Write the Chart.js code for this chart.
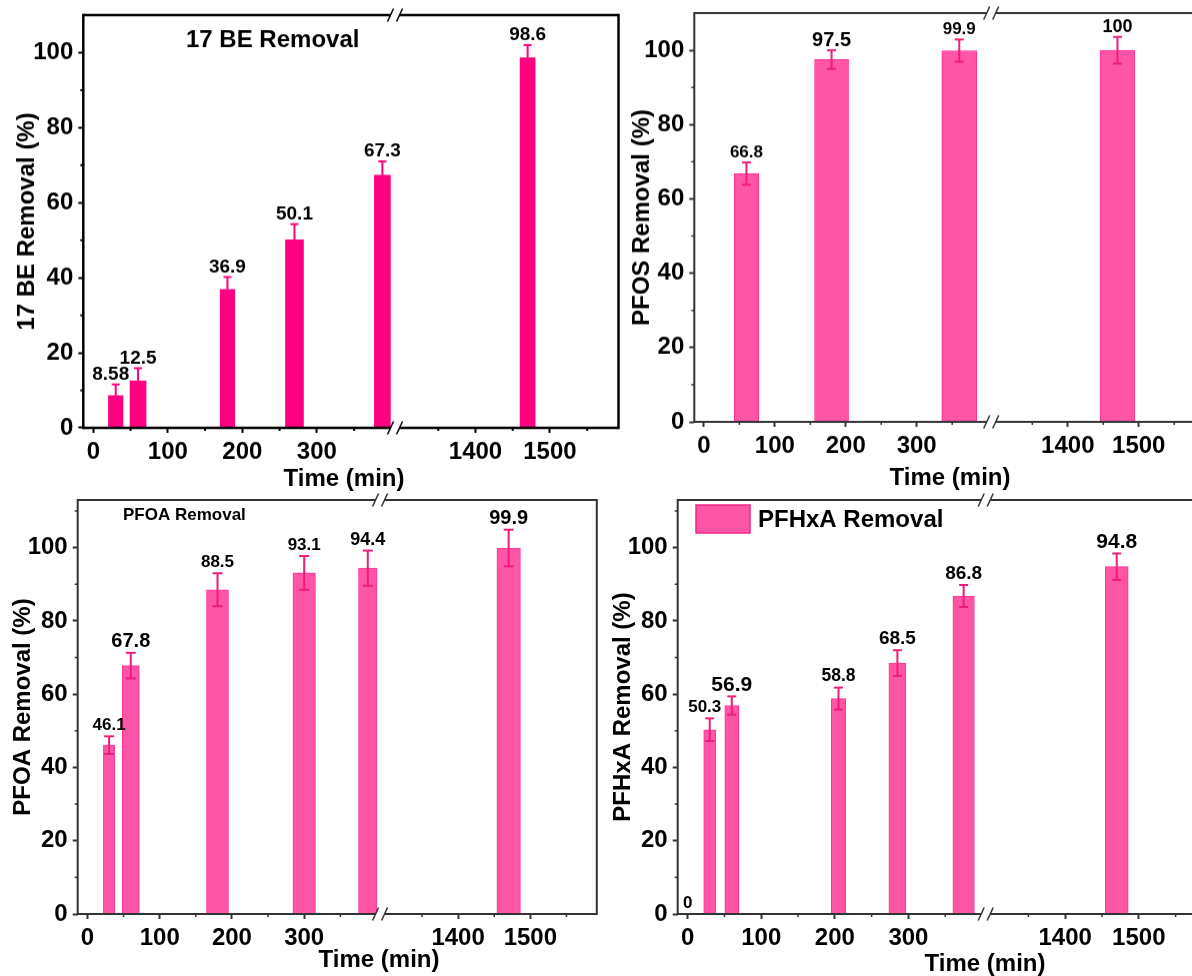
<!doctype html>
<html lang="en">
<head>
<meta charset="utf-8">
<title>Removal vs time</title>
<script src="https://cdn.jsdelivr.net/npm/chart.js"></script>
<style>
  html, body { margin: 0; padding: 0; background: #fff; }
  #wrap { position: relative; width: 1192px; height: 976px; overflow: hidden; }
  canvas { position: absolute; }
</style>
</head>
<body>
<div id="wrap">
  <canvas id="c_be"></canvas>
  <canvas id="c_pfos"></canvas>
  <canvas id="c_pfoa"></canvas>
  <canvas id="c_pfhxa"></canvas>
</div>
<script>
// values
const beTime = [30, 60, 180, 270, 388, 1470];
const beRemoval = [8.58, 12.5, 36.9, 50.1, 67.3, 98.6];
const beError = [3.0, 3.4, 3.3, 4.2, 3.7, 3.4];

const pfosTime = [60, 180, 360, 1470];
const pfosRemoval = [66.8, 97.5, 99.9, 100];
const pfosError = [3.0, 2.5, 3.0, 3.6];

const pfoaTime = [30, 60, 180, 300, 388, 1470];
const pfoaRemoval = [46.1, 67.8, 88.5, 93.1, 94.4, 99.9];
const pfoaError = [2.4, 3.5, 4.5, 4.6, 4.8, 5.0];

const pfhxaTime = [0, 30, 60, 205, 285, 375, 1470];
const pfhxaRemoval = [0, 50.3, 56.9, 58.8, 68.5, 86.8, 94.8];
const pfhxaError = [0, 3.1, 2.5, 3.0, 3.5, 3.0, 3.6];

// broken time axis: the part between breakFrom and breakTo is cut out
const timeMin = -13.5;
const timeMax = 1592;
const breakFrom = 405;
const breakTo = 1292;
const xMajorTicks = [0, 100, 200, 300, 1400, 1500];
const xMinorTicks = [50, 150, 250, 350, 1350, 1450, 1550];
const yMinorTicks = [10, 30, 50, 70, 90, 110];

const toAxis = t => t > breakFrom ? t - (breakTo - breakFrom) : t;
const fromAxis = u => u > breakFrom ? u + (breakTo - breakFrom) : u;

const FONT = '"Liberation Sans", Arial, sans-serif';
Chart.defaults.font.family = FONT;

const panels = [
    {
        id: 'c_be', yTitle: '17 BE Removal (%)', time: beTime, removal: beRemoval, error: beError, yMax: 110,
        area: { l: 83.3, t: 15, r: 618.5, b: 427.7 }, canvasX: 0, canvasW: 640,
        yTitleX: 27, xTitle: [344, 478],
        fill: '#FF0080', edge: '#FF0080', edgeWidth: 0, errColor: '#FF0080', errDown: false, capHalf: 4,
        frame: '#000', frameWidth: 2.5,
        barWidth: [14.5, 16, 14.5, 18, 16, 15],
        labelSize: [19, 19, 19, 19, 19, 19], labelDx: [-5, 0, 0, 0, 0, 0], labelGap: 10,
        note: { text: '17 BE Removal', x: 186, y: 40, size: 24 }
    },
    {
        id: 'c_pfos', yTitle: 'PFOS Removal (%)', time: pfosTime, removal: pfosRemoval, error: pfosError, yMax: 110,
        area: { l: 694.3, t: 13.3, r: 1204, b: 421.7 }, canvasX: 600, canvasW: 620,
        yTitleX: 642, xTitle: [950, 478],
        fill: '#FF55A6', edge: '#FF3399', edgeWidth: 1, errColor: '#EE1C7C', errDown: true, capHalf: 4.5,
        frame: '#333', frameWidth: 2,
        barWidth: [24.5, 34, 35, 35],
        labelSize: [17, 20, 17, 18], labelDx: [0, 0, 0, 0], labelGap: 10
    },
    {
        id: 'c_pfoa', yTitle: 'PFOA Removal (%)', time: pfoaTime, removal: pfoaRemoval, error: pfoaError, yMax: 113,
        area: { l: 77.7, t: 500, r: 596.8, b: 914.3 }, canvasX: 0, canvasW: 640,
        yTitleX: 23, xTitle: [379, 960],
        fill: '#FF55A6', edge: '#FF3399', edgeWidth: 1, errColor: '#EE1C7C', errDown: true, capHalf: 5,
        frame: '#333', frameWidth: 2,
        barWidth: [11.5, 17, 22, 22.5, 18.5, 23.5],
        labelSize: [17, 20, 17, 17, 18, 20], labelDx: [0, 0, 0, 0, 0, 0], labelGap: 11,
        note: { text: 'PFOA Removal', x: 123, y: 515, size: 17 }
    },
    {
        id: 'c_pfhxa', yTitle: 'PFHxA Removal (%)', time: pfhxaTime, removal: pfhxaRemoval, error: pfhxaError, yMax: 113,
        area: { l: 677.7, t: 500, r: 1206.5, b: 914.3 }, canvasX: 600, canvasW: 620,
        yTitleX: 623, xTitle: [985, 964],
        fill: '#FF55A6', edge: '#FF3399', edgeWidth: 1, errColor: '#EE1C7C', errDown: true, capHalf: 4.5,
        frame: '#333', frameWidth: 2,
        barWidth: [12, 12, 14, 14.5, 17, 21.5, 23],
        labelSize: [17, 17, 21, 17.5, 19, 19, 21], labelDx: [0, -5, 0, 0, 0, 0, 0], labelGap: 11,
        legend: { text: 'PFHxA Removal', box: [696, 505, 54, 28], x: 758, y: 520, size: 24 }
    }
];

function line(ctx, x1, y1, x2, y2) {
    ctx.beginPath();
    ctx.moveTo(x1, y1);
    ctx.lineTo(x2, y2);
    ctx.stroke();
}

function makeChart(p) {
    const cv = document.getElementById(p.id);
    const top = p.area.t - 30;
    const w = p.canvasW;
    const h = p.area.b + 80 - top;
    cv.width = w;
    cv.height = h;
    cv.style.left = p.canvasX + 'px';
    cv.style.top = top + 'px';
    cv.style.width = w + 'px';
    cv.style.height = h + 'px';

    const yWidth = p.area.l - p.canvasX;
    const xHeight = h - (p.area.b - top);
    const tickFont = { family: FONT, size: 24, weight: 'bold' };

    // one dataset per bar so every bar keeps its own width
    const datasets = p.time.map((t, i) => ({
        label: p.yTitle,
        data: [{ x: toAxis(t), y: p.removal[i] }],
        backgroundColor: p.fill,
        borderColor: p.edge,
        borderWidth: p.edgeWidth,
        barThickness: p.barWidth[i],
        grouped: false
    }));

    const decor = {
        id: 'decor_' + p.id,
        afterDatasetsDraw(chart) {
            const ctx = chart.ctx;
            const ys = chart.scales.y;
            ctx.save();
            chart.data.datasets.forEach((ds, i) => {
                const bar = chart.getDatasetMeta(i).data[0];
                const v = p.removal[i];
                const e = p.error[i] || 0;
                const bx = bar.x;
                if (e) {
                    const yt = ys.getPixelForValue(v + e);
                    const yb = ys.getPixelForValue(p.errDown ? v - e : v);
                    ctx.strokeStyle = p.errColor;
                    ctx.lineWidth = 2;
                    line(ctx, bx, yt, bx, yb);
                    line(ctx, bx - p.capHalf, yt, bx + p.capHalf, yt);
                    if (p.errDown) line(ctx, bx - p.capHalf, yb, bx + p.capHalf, yb);
                }
                ctx.fillStyle = '#000';
                ctx.font = 'bold ' + p.labelSize[i] + 'px ' + FONT;
                ctx.textAlign = 'center';
                ctx.textBaseline = 'middle';
                ctx.fillText(String(v), bx + p.labelDx[i], ys.getPixelForValue(v + e) - p.labelGap);
            });
            ctx.restore();
        },
        afterDraw(chart) {
            const ctx = chart.ctx;
            const { left, top: at, right, bottom } = chart.chartArea;
            const xs = chart.scales.x, ys = chart.scales.y;
            const brk = xs.getPixelForValue(breakFrom);
            const ox = p.canvasX, oy = top;
            ctx.save();
            ctx.strokeStyle = p.frame;
            ctx.lineWidth = p.frameWidth;
            const hw = p.frameWidth / 2;
            line(ctx, left, at - hw, left, bottom + hw);
            line(ctx, right, at - hw, right, bottom + hw);
            [at, bottom].forEach(yy => {
                line(ctx, left, yy, brk - 4.5, yy);
                line(ctx, brk + 4.5, yy, right, yy);
            });
            ctx.lineWidth = 1.5;
            [at, bottom].forEach(yy => {
                line(ctx, brk - 7.5, yy + 6.5, brk - 1.5, yy - 6.5);
                line(ctx, brk + 1.5, yy + 6.5, brk + 7.5, yy - 6.5);
            });
            // minor ticks
            ctx.lineWidth = p.frameWidth === 2.5 ? 2 : 1.5;
            xMinorTicks.forEach(v => {
                const px = xs.getPixelForValue(toAxis(v));
                line(ctx, px, bottom, px, bottom + 3);
            });
            yMinorTicks.forEach(v => {
                if (v >= p.yMax) return;
                const py = ys.getPixelForValue(v);
                line(ctx, left - 3, py, left, py);
            });
            // texts
            ctx.fillStyle = '#000';
            ctx.textBaseline = 'middle';
            ctx.textAlign = 'center';
            ctx.font = 'bold 24px ' + FONT;
            ctx.fillText('Time (min)', p.xTitle[0] - ox, p.xTitle[1] - oy);
            if (p.note) {
                ctx.textAlign = 'left';
                ctx.font = 'bold ' + p.note.size + 'px ' + FONT;
                ctx.fillText(p.note.text, p.note.x - ox, p.note.y - oy);
            }
            if (p.legend) {
                const b = p.legend.box;
                ctx.fillStyle = p.fill;
                ctx.fillRect(b[0] - ox, b[1] - oy, b[2], b[3]);
                ctx.strokeStyle = '#F0288C';
                ctx.lineWidth = 1.5;
                ctx.strokeRect(b[0] - ox, b[1] - oy, b[2], b[3]);
                ctx.fillStyle = '#000';
                ctx.textAlign = 'left';
                ctx.font = 'bold ' + p.legend.size + 'px ' + FONT;
                ctx.fillText(p.legend.text, p.legend.x - ox, p.legend.y - oy);
            }
            ctx.restore();
        }
    };

    return new Chart(cv, {
        type: 'bar',
        data: { datasets: datasets },
        options: {
            responsive: false,
            animation: false,
            devicePixelRatio: 1,
            layout: { padding: { left: 0, top: 30, right: p.canvasX + w - p.area.r, bottom: 0 } },
            plugins: { legend: { display: false }, tooltip: { enabled: false } },
            scales: {
                x: {
                    type: 'linear',
                    offset: false,
                    min: toAxis(timeMin),
                    max: toAxis(timeMax),
                    afterBuildTicks: (s) => { s.ticks = xMajorTicks.map(t => ({ value: toAxis(t) })); },
                    afterFit: (s) => { s.height = xHeight; },
                    grid: { offset: false, drawOnChartArea: false, drawTicks: true, tickLength: 5, tickWidth: 2, tickColor: p.frame },
                    border: { display: false },
                    ticks: { color: '#000', font: tickFont, padding: 5, maxRotation: 0, autoSkip: false, callback: v => String(fromAxis(v)) }
                },
                y: {
                    type: 'linear',
                    min: 0,
                    max: p.yMax,
                    afterFit: (s) => { s.width = yWidth; },
                    grid: { drawOnChartArea: false, drawTicks: true, tickLength: 5, tickWidth: 2, tickColor: p.frame },
                    border: { display: false },
                    ticks: { stepSize: 20, includeBounds: false, color: '#000', font: tickFont, padding: 5, callback: v => String(v) },
                    title: {
                        display: true,
                        text: p.yTitle,
                        color: '#000',
                        font: { family: FONT, size: 24, weight: 'bold' },
                        padding: { top: p.yTitleX - p.canvasX - 14.4, bottom: 0 }
                    }
                }
            }
        },
        plugins: [decor]
    });
}

panels.forEach(makeChart);
</script>
</body>
</html>
